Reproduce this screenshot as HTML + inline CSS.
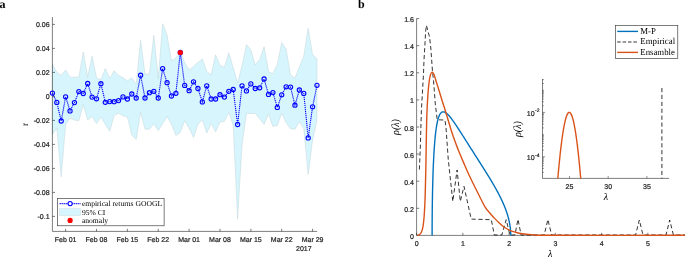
<!DOCTYPE html><html><head><meta charset="utf-8"><style>html,body{margin:0;padding:0;background:#fff;width:685px;height:257px;overflow:hidden}svg{display:block;will-change:transform;text-rendering:geometricPrecision}.s{font-family:"Liberation Sans",sans-serif;stroke:#262626;stroke-width:0.22px}.r{font-family:"Liberation Serif",serif}</style></head><body>
<svg width="685" height="257" viewBox="0 0 685 257">
<text x="-0.5" y="8.3" class="r" font-weight="bold" font-size="12" fill="#000">a</text>
<polygon points="52.4,64.2 56.81,72.3 61.22,75.4 65.63,70 70.04,77.2 74.45,77.2 78.86,77.2 83.27,52 87.68,77.2 92.09,56.1 96.5,77.9 100.91,79.7 105.32,68.5 109.73,78.5 114.14,70.7 118.55,75.5 122.96,77.5 127.37,80.8 131.78,77.9 136.19,84.3 140.6,40.3 145.01,74.1 149.42,74.1 153.83,35.3 158.24,78.5 162.65,23.7 167.06,35 171.47,61 175.88,58 180.29,52 184.7,62.5 189.11,70 193.52,66.3 197.93,62.5 202.34,58.9 206.75,71.5 211.16,74.8 215.57,54.8 219.98,65.4 224.39,67.3 228.8,52.7 233.21,67.8 237.62,83 242.03,66 246.44,44.6 250.85,50 255.26,64.8 259.67,59.8 264.08,46.6 268.49,71.6 272.9,73.8 277.31,64.4 281.72,42.4 286.13,49.2 290.54,75.2 294.95,78.1 299.36,67 303.77,56.2 308.18,28.2 312.59,54.7 317,58.6 317,120.1 312.59,140 308.18,174.4 303.77,128.7 299.36,121.7 294.95,129.2 290.54,128.8 286.13,122.8 281.72,113.1 277.31,125.5 272.9,126.5 268.49,113.9 264.08,124.4 259.67,118.8 255.26,113.5 250.85,113.5 246.44,113.2 242.03,145 237.62,219 233.21,125 228.8,112.6 224.39,121.3 219.98,122 215.57,131.9 211.16,123.5 206.75,133 202.34,119.5 197.93,124.4 193.52,137.5 189.11,128.2 184.7,120.7 180.29,132.5 175.88,135.4 171.47,124.4 167.06,116.4 162.65,123.6 158.24,130.7 153.83,123.8 149.42,129.2 145.01,129.2 140.6,112.3 136.19,139.4 131.78,135 127.37,117 122.96,115.7 118.55,113.2 114.14,115.5 109.73,131.3 105.32,124.4 100.91,117 96.5,123.5 92.09,116.4 87.68,120.1 83.27,104.7 78.86,120.7 74.45,120.1 70.04,118 65.63,124.4 61.22,176.8 56.81,128.2 52.4,134.4" fill="#d6f5fd" stroke="#c2d5d9" stroke-width="0.5" stroke-linejoin="miter"/>
<path d="M52.4 17V231.4H317.2" fill="none" stroke="#262626" stroke-width="0.6"/>
<text x="49.6" y="27.4" class="s" font-size="7" fill="#262626" text-anchor="end">0.06</text>
<text x="49.6" y="51.4" class="s" font-size="7" fill="#262626" text-anchor="end">0.04</text>
<text x="49.6" y="75.4" class="s" font-size="7" fill="#262626" text-anchor="end">0.02</text>
<text x="49.6" y="99.4" class="s" font-size="7" fill="#262626" text-anchor="end">0</text>
<text x="49.6" y="123.4" class="s" font-size="7" fill="#262626" text-anchor="end">-0.02</text>
<text x="49.6" y="147.4" class="s" font-size="7" fill="#262626" text-anchor="end">-0.04</text>
<text x="49.6" y="171.4" class="s" font-size="7" fill="#262626" text-anchor="end">-0.06</text>
<text x="49.6" y="195.4" class="s" font-size="7" fill="#262626" text-anchor="end">-0.08</text>
<text x="49.6" y="219.4" class="s" font-size="7" fill="#262626" text-anchor="end">-0.1</text>
<text x="65.63" y="241.7" class="s" font-size="7" fill="#262626" text-anchor="middle">Feb 01</text>
<text x="96.5" y="241.7" class="s" font-size="7" fill="#262626" text-anchor="middle">Feb 08</text>
<text x="127.37" y="241.7" class="s" font-size="7" fill="#262626" text-anchor="middle">Feb 15</text>
<text x="158.24" y="241.7" class="s" font-size="7" fill="#262626" text-anchor="middle">Feb 22</text>
<text x="189.11" y="241.7" class="s" font-size="7" fill="#262626" text-anchor="middle">Mar 01</text>
<text x="219.98" y="241.7" class="s" font-size="7" fill="#262626" text-anchor="middle">Mar 08</text>
<text x="250.85" y="241.7" class="s" font-size="7" fill="#262626" text-anchor="middle">Mar 15</text>
<text x="281.72" y="241.7" class="s" font-size="7" fill="#262626" text-anchor="middle">Mar 22</text>
<text x="312.59" y="241.7" class="s" font-size="7" fill="#262626" text-anchor="middle">Mar 29</text>
<path d="M52.4 24.4h2.6M52.4 48.4h2.6M52.4 72.4h2.6M52.4 96.4h2.6M52.4 120.4h2.6M52.4 144.4h2.6M52.4 168.4h2.6M52.4 192.4h2.6M52.4 216.4h2.6M65.63 231.4v-2.6M96.5 231.4v-2.6M127.37 231.4v-2.6M158.24 231.4v-2.6M189.11 231.4v-2.6M219.98 231.4v-2.6M250.85 231.4v-2.6M281.72 231.4v-2.6M312.59 231.4v-2.6" stroke="#262626" stroke-width="0.6" fill="none"/>
<text x="311.6" y="250.6" class="s" font-size="7" fill="#262626" text-anchor="end">2017</text>
<text transform="translate(28.3 124.3) rotate(-90)" class="r" font-size="9.5" fill="#000" text-anchor="middle">r</text>
<polyline points="52.4,93.1 56.81,102.4 61.22,121 65.63,96.8 70.04,110.9 74.45,102.6 78.86,91.6 83.27,93.5 87.68,83.5 92.09,97.1 96.5,98.8 100.91,83.7 105.32,102.3 109.73,101.6 114.14,101.7 118.55,100.6 122.96,96.9 127.37,99 131.78,94 136.19,98 140.6,75.2 145.01,98 149.42,92.7 153.83,91.3 158.24,98 162.65,68.6 167.06,82.7 171.47,96 175.88,93.3 180.29,52.5 184.7,85.4 189.11,90.7 193.52,81.8 197.93,88.5 202.34,101.9 206.75,85.8 211.16,99 215.57,99 219.98,94.7 224.39,97.1 228.8,91.3 233.21,89.5 237.62,124.5 242.03,85.8 246.44,90.9 250.85,83.9 255.26,88.5 259.67,87.8 264.08,79 268.49,94.4 272.9,92.6 277.31,107.4 281.72,94.8 286.13,86.8 290.54,87.1 294.95,105.2 299.36,90 303.77,93.4 308.18,137.9 312.59,106.8 317,85.3" fill="none" stroke="#0000ff" stroke-width="1.1" stroke-dasharray="1.2 0.8"/>
<circle cx="52.4" cy="93.1" r="2.1" fill="none" stroke="#0000ff" stroke-width="1.1"/>
<circle cx="56.81" cy="102.4" r="2.1" fill="none" stroke="#0000ff" stroke-width="1.1"/>
<circle cx="61.22" cy="121" r="2.1" fill="none" stroke="#0000ff" stroke-width="1.1"/>
<circle cx="65.63" cy="96.8" r="2.1" fill="none" stroke="#0000ff" stroke-width="1.1"/>
<circle cx="70.04" cy="110.9" r="2.1" fill="none" stroke="#0000ff" stroke-width="1.1"/>
<circle cx="74.45" cy="102.6" r="2.1" fill="none" stroke="#0000ff" stroke-width="1.1"/>
<circle cx="78.86" cy="91.6" r="2.1" fill="none" stroke="#0000ff" stroke-width="1.1"/>
<circle cx="83.27" cy="93.5" r="2.1" fill="none" stroke="#0000ff" stroke-width="1.1"/>
<circle cx="87.68" cy="83.5" r="2.1" fill="none" stroke="#0000ff" stroke-width="1.1"/>
<circle cx="92.09" cy="97.1" r="2.1" fill="none" stroke="#0000ff" stroke-width="1.1"/>
<circle cx="96.5" cy="98.8" r="2.1" fill="none" stroke="#0000ff" stroke-width="1.1"/>
<circle cx="100.91" cy="83.7" r="2.1" fill="none" stroke="#0000ff" stroke-width="1.1"/>
<circle cx="105.32" cy="102.3" r="2.1" fill="none" stroke="#0000ff" stroke-width="1.1"/>
<circle cx="109.73" cy="101.6" r="2.1" fill="none" stroke="#0000ff" stroke-width="1.1"/>
<circle cx="114.14" cy="101.7" r="2.1" fill="none" stroke="#0000ff" stroke-width="1.1"/>
<circle cx="118.55" cy="100.6" r="2.1" fill="none" stroke="#0000ff" stroke-width="1.1"/>
<circle cx="122.96" cy="96.9" r="2.1" fill="none" stroke="#0000ff" stroke-width="1.1"/>
<circle cx="127.37" cy="99" r="2.1" fill="none" stroke="#0000ff" stroke-width="1.1"/>
<circle cx="131.78" cy="94" r="2.1" fill="none" stroke="#0000ff" stroke-width="1.1"/>
<circle cx="136.19" cy="98" r="2.1" fill="none" stroke="#0000ff" stroke-width="1.1"/>
<circle cx="140.6" cy="75.2" r="2.1" fill="none" stroke="#0000ff" stroke-width="1.1"/>
<circle cx="145.01" cy="98" r="2.1" fill="none" stroke="#0000ff" stroke-width="1.1"/>
<circle cx="149.42" cy="92.7" r="2.1" fill="none" stroke="#0000ff" stroke-width="1.1"/>
<circle cx="153.83" cy="91.3" r="2.1" fill="none" stroke="#0000ff" stroke-width="1.1"/>
<circle cx="158.24" cy="98" r="2.1" fill="none" stroke="#0000ff" stroke-width="1.1"/>
<circle cx="162.65" cy="68.6" r="2.1" fill="none" stroke="#0000ff" stroke-width="1.1"/>
<circle cx="167.06" cy="82.7" r="2.1" fill="none" stroke="#0000ff" stroke-width="1.1"/>
<circle cx="171.47" cy="96" r="2.1" fill="none" stroke="#0000ff" stroke-width="1.1"/>
<circle cx="175.88" cy="93.3" r="2.1" fill="none" stroke="#0000ff" stroke-width="1.1"/>
<circle cx="180.29" cy="52.5" r="2.1" fill="none" stroke="#0000ff" stroke-width="1.1"/>
<circle cx="184.7" cy="85.4" r="2.1" fill="none" stroke="#0000ff" stroke-width="1.1"/>
<circle cx="189.11" cy="90.7" r="2.1" fill="none" stroke="#0000ff" stroke-width="1.1"/>
<circle cx="193.52" cy="81.8" r="2.1" fill="none" stroke="#0000ff" stroke-width="1.1"/>
<circle cx="197.93" cy="88.5" r="2.1" fill="none" stroke="#0000ff" stroke-width="1.1"/>
<circle cx="202.34" cy="101.9" r="2.1" fill="none" stroke="#0000ff" stroke-width="1.1"/>
<circle cx="206.75" cy="85.8" r="2.1" fill="none" stroke="#0000ff" stroke-width="1.1"/>
<circle cx="211.16" cy="99" r="2.1" fill="none" stroke="#0000ff" stroke-width="1.1"/>
<circle cx="215.57" cy="99" r="2.1" fill="none" stroke="#0000ff" stroke-width="1.1"/>
<circle cx="219.98" cy="94.7" r="2.1" fill="none" stroke="#0000ff" stroke-width="1.1"/>
<circle cx="224.39" cy="97.1" r="2.1" fill="none" stroke="#0000ff" stroke-width="1.1"/>
<circle cx="228.8" cy="91.3" r="2.1" fill="none" stroke="#0000ff" stroke-width="1.1"/>
<circle cx="233.21" cy="89.5" r="2.1" fill="none" stroke="#0000ff" stroke-width="1.1"/>
<circle cx="237.62" cy="124.5" r="2.1" fill="none" stroke="#0000ff" stroke-width="1.1"/>
<circle cx="242.03" cy="85.8" r="2.1" fill="none" stroke="#0000ff" stroke-width="1.1"/>
<circle cx="246.44" cy="90.9" r="2.1" fill="none" stroke="#0000ff" stroke-width="1.1"/>
<circle cx="250.85" cy="83.9" r="2.1" fill="none" stroke="#0000ff" stroke-width="1.1"/>
<circle cx="255.26" cy="88.5" r="2.1" fill="none" stroke="#0000ff" stroke-width="1.1"/>
<circle cx="259.67" cy="87.8" r="2.1" fill="none" stroke="#0000ff" stroke-width="1.1"/>
<circle cx="264.08" cy="79" r="2.1" fill="none" stroke="#0000ff" stroke-width="1.1"/>
<circle cx="268.49" cy="94.4" r="2.1" fill="none" stroke="#0000ff" stroke-width="1.1"/>
<circle cx="272.9" cy="92.6" r="2.1" fill="none" stroke="#0000ff" stroke-width="1.1"/>
<circle cx="277.31" cy="107.4" r="2.1" fill="none" stroke="#0000ff" stroke-width="1.1"/>
<circle cx="281.72" cy="94.8" r="2.1" fill="none" stroke="#0000ff" stroke-width="1.1"/>
<circle cx="286.13" cy="86.8" r="2.1" fill="none" stroke="#0000ff" stroke-width="1.1"/>
<circle cx="290.54" cy="87.1" r="2.1" fill="none" stroke="#0000ff" stroke-width="1.1"/>
<circle cx="294.95" cy="105.2" r="2.1" fill="none" stroke="#0000ff" stroke-width="1.1"/>
<circle cx="299.36" cy="90" r="2.1" fill="none" stroke="#0000ff" stroke-width="1.1"/>
<circle cx="303.77" cy="93.4" r="2.1" fill="none" stroke="#0000ff" stroke-width="1.1"/>
<circle cx="308.18" cy="137.9" r="2.1" fill="none" stroke="#0000ff" stroke-width="1.1"/>
<circle cx="312.59" cy="106.8" r="2.1" fill="none" stroke="#0000ff" stroke-width="1.1"/>
<circle cx="317" cy="85.3" r="2.1" fill="none" stroke="#0000ff" stroke-width="1.1"/>
<circle cx="180.3" cy="52.5" r="2.6" fill="#ff0000"/>
<rect x="57.5" y="198.3" width="106.6" height="27.5" fill="#fff" stroke="#262626" stroke-width="0.6"/>
<path d="M59.6 203.6H80.5" stroke="#0000ff" stroke-width="1.1" stroke-dasharray="1.2 0.8"/>
<circle cx="70.1" cy="203.6" r="2.1" fill="#fff" stroke="#0000ff" stroke-width="1.1"/>
<rect x="59.6" y="208.8" width="20.9" height="6.7" fill="#d6f5fd" stroke="#c2d5d9" stroke-width="0.4"/>
<circle cx="70.1" cy="220.4" r="2.6" fill="#ff0000"/>
<text x="81.9" y="206.1" class="r" font-size="7.6" fill="#000">empirical returns GOOGL</text>
<text x="81.9" y="214.8" class="r" font-size="7.6" fill="#000">95% CI</text>
<text x="81.9" y="222.7" class="r" font-size="7.6" fill="#000">anomaly</text>
<text x="358" y="8.2" class="r" font-weight="bold" font-size="12" fill="#000">b</text>
<path d="M416.6 18.4V235.4H685" fill="none" stroke="#262626" stroke-width="0.6"/>
<text x="413.9" y="238.9" class="s" font-size="7" fill="#262626" text-anchor="end">0</text>
<text x="413.9" y="211.8" class="s" font-size="7" fill="#262626" text-anchor="end">0.2</text>
<text x="413.9" y="184.7" class="s" font-size="7" fill="#262626" text-anchor="end">0.4</text>
<text x="413.9" y="157.6" class="s" font-size="7" fill="#262626" text-anchor="end">0.6</text>
<text x="413.9" y="130.5" class="s" font-size="7" fill="#262626" text-anchor="end">0.8</text>
<text x="413.9" y="103.4" class="s" font-size="7" fill="#262626" text-anchor="end">1</text>
<text x="413.9" y="76.3" class="s" font-size="7" fill="#262626" text-anchor="end">1.2</text>
<text x="413.9" y="49.2" class="s" font-size="7" fill="#262626" text-anchor="end">1.4</text>
<text x="413.9" y="22.1" class="s" font-size="7" fill="#262626" text-anchor="end">1.6</text>
<text x="416.6" y="246.0" class="s" font-size="7" fill="#262626" text-anchor="middle">0</text>
<text x="462.85" y="246.0" class="s" font-size="7" fill="#262626" text-anchor="middle">1</text>
<text x="509.1" y="246.0" class="s" font-size="7" fill="#262626" text-anchor="middle">2</text>
<text x="555.35" y="246.0" class="s" font-size="7" fill="#262626" text-anchor="middle">3</text>
<text x="601.6" y="246.0" class="s" font-size="7" fill="#262626" text-anchor="middle">4</text>
<text x="647.85" y="246.0" class="s" font-size="7" fill="#262626" text-anchor="middle">5</text>
<path d="M416.6 235.4h2.6M416.6 208.3h2.6M416.6 181.2h2.6M416.6 154.1h2.6M416.6 127h2.6M416.6 99.9h2.6M416.6 72.8h2.6M416.6 45.7h2.6M416.6 18.6h2.6M416.6 235.4v-2.6M462.85 235.4v-2.6M509.1 235.4v-2.6M555.35 235.4v-2.6M601.6 235.4v-2.6M647.85 235.4v-2.6" stroke="#262626" stroke-width="0.6" fill="none"/>
<text transform="translate(398.6 127.0) rotate(-90) scale(1 1.1)" class="r" font-style="italic" font-size="10" fill="#000" text-anchor="middle">ρ(λ)</text>
<text x="550.2" y="256.8" class="r" font-style="italic" font-size="10" fill="#000" text-anchor="middle">λ</text>
<path d="M419.4,169.5 L420.4,145 L420.8,130 L421.4,110 L422.3,95 L423.45,75 L424,60 L424.8,46.9 L425.6,31.7 L426.4,25.3 L429.6,37.2 L430.9,49.2 L432.5,71.7 L433.5,80 L435.3,104 L437.2,119.7 L445,120.1 L446.1,129.1 L446.6,136 L448.3,160 L452.8,201.4 L457.1,170 L460.3,201.4 L464,186.4 L471.2,219.1 L491.3,219.7 L494.3,235 L501.8,235 L506.2,219.7 L509.9,235 L514.9,235 L518,219.3 L521.1,235 L544.2,235 L547.9,219.5 L551.6,235 L635.6,235 L639.3,220 L643,235 L666,235 L669.7,220 L673.4,235 L685,235" fill="none" stroke="#000" stroke-width="0.8" stroke-dasharray="4.2 2.7"/>
<path d="M432.12,235.40 L432.12,230.62 L432.14,225.85 L432.16,221.10 L432.19,216.39 L432.24,211.71 L432.29,207.08 L432.35,202.51 L432.43,198.01 L432.51,193.58 L432.60,189.23 L432.70,184.98 L432.81,180.82 L432.93,176.77 L433.06,172.83 L433.20,169.00 L433.35,165.30 L433.51,161.71 L433.68,158.26 L433.85,154.93 L434.04,151.73 L434.24,148.67 L434.44,145.74 L434.65,142.95 L434.88,140.29 L435.11,137.76 L435.35,135.38 L435.60,133.12 L435.86,130.99 L436.12,129.00 L436.40,127.13 L436.68,125.39 L436.98,123.77 L437.28,122.26 L437.59,120.88 L437.91,119.61 L438.23,118.45 L438.57,117.39 L438.91,116.44 L439.26,115.59 L439.62,114.84 L439.99,114.18 L440.36,113.61 L440.75,113.13 L441.14,112.72 L441.53,112.40 L441.94,112.15 L442.35,111.98 L442.77,111.87 L443.19,111.83 L443.63,111.86 L444.07,111.94 L444.51,112.08 L444.97,112.28 L445.43,112.53 L445.89,112.82 L446.37,113.17 L446.85,113.55 L447.33,113.98 L447.82,114.45 L448.32,114.95 L448.82,115.49 L449.33,116.06 L449.84,116.67 L450.36,117.30 L450.88,117.96 L451.41,118.64 L451.95,119.35 L452.48,120.08 L453.03,120.84 L453.58,121.61 L454.13,122.40 L454.68,123.21 L455.24,124.03 L455.81,124.87 L456.38,125.72 L456.95,126.59 L457.53,127.47 L458.11,128.35 L458.69,129.25 L459.27,130.16 L459.86,131.07 L460.45,132.00 L461.05,132.92 L461.64,133.86 L462.24,134.80 L462.84,135.75 L463.45,136.70 L464.05,137.65 L464.66,138.61 L465.27,139.57 L465.88,140.53 L466.49,141.50 L467.11,142.47 L467.72,143.44 L468.33,144.40 L468.95,145.38 L469.57,146.35 L470.18,147.32 L470.80,148.29 L471.42,149.26 L472.04,150.23 L472.65,151.20 L473.27,152.16 L473.89,153.13 L474.50,154.10 L475.12,155.06 L475.73,156.02 L476.34,156.98 L476.96,157.94 L477.57,158.90 L478.17,159.85 L478.78,160.80 L479.39,161.75 L479.99,162.70 L480.59,163.65 L481.19,164.59 L481.79,165.53 L482.38,166.47 L482.97,167.40 L483.56,168.33 L484.15,169.26 L484.73,170.19 L485.31,171.11 L485.89,172.03 L486.46,172.95 L487.03,173.86 L487.59,174.78 L488.15,175.68 L488.71,176.59 L489.26,177.49 L489.81,178.39 L490.35,179.29 L490.89,180.19 L491.42,181.08 L491.95,181.97 L492.48,182.85 L492.99,183.74 L493.51,184.62 L494.02,185.50 L494.52,186.37 L495.01,187.24 L495.51,188.11 L495.99,188.98 L496.47,189.84 L496.94,190.71 L497.41,191.57 L497.87,192.42 L498.32,193.28 L498.77,194.13 L499.21,194.98 L499.64,195.83 L500.07,196.67 L500.49,197.51 L500.90,198.36 L501.30,199.19 L501.70,200.03 L502.09,200.86 L502.47,201.70 L502.85,202.53 L503.21,203.35 L503.57,204.18 L503.92,205.00 L504.27,205.83 L504.60,206.65 L504.93,207.47 L505.25,208.28 L505.56,209.10 L505.86,209.91 L506.15,210.73 L506.44,211.54 L506.71,212.35 L506.98,213.15 L507.24,213.96 L507.49,214.77 L507.73,215.57 L507.96,216.37 L508.18,217.17 L508.40,217.97 L508.60,218.77 L508.80,219.57 L508.98,220.37 L509.16,221.17 L509.33,221.96 L509.48,222.76 L509.63,223.55 L509.77,224.34 L509.90,225.14 L510.02,225.93 L510.13,226.72 L510.23,227.51 L510.33,228.30 L510.41,229.09 L510.48,229.88 L510.54,230.67 L510.60,231.46 L510.64,232.25 L510.68,233.04 L510.70,233.82 L510.71,234.61 L510.72,235.40" fill="none" stroke="#0072bd" stroke-width="1.4"/>
<path d="M417.30,235.30 C417.58,235.23 418.47,235.18 419.00,234.90 C419.53,234.62 420.00,234.32 420.50,233.60 C421.00,232.88 421.57,231.90 422.00,230.60 C422.43,229.30 422.77,227.90 423.10,225.80 C423.43,223.70 423.75,220.80 424.00,218.00 C424.25,215.20 424.42,212.33 424.60,209.00 C424.78,205.67 424.95,202.33 425.10,198.00 C425.25,193.67 425.37,188.50 425.50,183.00 C425.63,177.50 425.77,172.17 425.90,165.00 C426.03,157.83 426.17,147.50 426.30,140.00 C426.43,132.50 426.53,125.83 426.70,120.00 C426.87,114.17 427.05,109.83 427.30,105.00 C427.55,100.17 427.87,95.08 428.20,91.00 C428.53,86.92 428.92,83.23 429.30,80.50 C429.68,77.77 430.07,75.97 430.50,74.60 C430.93,73.23 431.42,72.50 431.90,72.30 C432.38,72.10 432.93,72.70 433.40,73.40 C433.87,74.10 434.30,75.37 434.70,76.50 C435.10,77.63 435.05,77.78 435.80,80.20 C436.55,82.62 438.07,87.32 439.20,91.00 C440.33,94.68 441.55,98.93 442.60,102.30 C443.65,105.67 443.85,105.87 445.50,111.20 C447.15,116.53 450.37,127.83 452.50,134.30 C454.63,140.77 456.32,144.97 458.30,150.00 C460.28,155.03 462.67,160.45 464.40,164.50 C466.13,168.55 467.27,171.17 468.70,174.30 C470.13,177.43 471.37,179.98 473.00,183.30 C474.63,186.62 476.50,190.28 478.50,194.20 C480.50,198.12 483.08,203.62 485.00,206.80 C486.92,209.98 488.50,211.48 490.00,213.30 C491.50,215.12 492.50,216.12 494.00,217.70 C495.50,219.28 497.38,221.28 499.00,222.80 C500.62,224.32 501.88,225.53 503.70,226.80 C505.52,228.07 507.85,229.47 509.90,230.40 C511.95,231.33 513.92,231.85 516.00,232.40 C518.08,232.95 519.27,233.28 522.40,233.70 C525.53,234.12 530.20,234.63 534.80,234.90 C539.40,235.17 524.97,235.23 550.00,235.30 C575.03,235.37 662.50,235.30 685.00,235.30" fill="none" stroke="#d95319" stroke-width="1.4"/>
<rect x="615.3" y="25.6" width="62.5" height="32.8" fill="#fff" stroke="#262626" stroke-width="0.6"/>
<path d="M617.2 31.4H638" stroke="#0072bd" stroke-width="1.4"/>
<path d="M617.2 42H638" stroke="#000" stroke-width="0.8" stroke-dasharray="3.5 1.9"/>
<path d="M617.2 52.4H638" stroke="#d95319" stroke-width="1.4"/>
<text x="640.3" y="34.1" class="r" font-size="9" fill="#000" textLength="15.6" lengthAdjust="spacingAndGlyphs">M-P</text>
<text x="640.3" y="44.3" class="r" font-size="9" fill="#000" textLength="34.8" lengthAdjust="spacingAndGlyphs">Empirical</text>
<text x="640.3" y="54.8" class="r" font-size="9" fill="#000" textLength="34.6" lengthAdjust="spacingAndGlyphs">Ensamble</text>
<rect x="542.5" y="79" width="126.6" height="99.4" fill="#fff"/>
<path d="M542.5 79V178.4H669.1" fill="none" stroke="#262626" stroke-width="0.6"/>
<text x="569.50" y="189" class="s" font-size="7" fill="#262626" text-anchor="middle">25</text>
<text x="608.20" y="189" class="s" font-size="7" fill="#262626" text-anchor="middle">30</text>
<text x="646.90" y="189" class="s" font-size="7" fill="#262626" text-anchor="middle">35</text>
<path d="M542.5 172.32h1.4M542.5 168.41h1.4M542.5 165.63h1.4M542.5 163.48h1.4M542.5 161.73h1.4M542.5 160.24h1.4M542.5 158.95h1.4M542.5 157.82h1.4M542.5 156.80h2.6M542.5 150.12h1.4M542.5 146.21h1.4M542.5 143.43h1.4M542.5 141.28h1.4M542.5 139.53h1.4M542.5 138.04h1.4M542.5 136.75h1.4M542.5 135.62h1.4M542.5 134.60h1.4M542.5 127.92h1.4M542.5 124.01h1.4M542.5 121.23h1.4M542.5 119.08h1.4M542.5 117.33h1.4M542.5 115.84h1.4M542.5 114.55h1.4M542.5 113.42h1.4M542.5 112.40h2.6M542.5 105.72h1.4M542.5 101.81h1.4M542.5 99.03h1.4M542.5 96.88h1.4M542.5 95.13h1.4M542.5 93.64h1.4M542.5 92.35h1.4M542.5 91.22h1.4M542.5 90.20h1.4M542.5 83.52h1.4M542.5 79.61h1.4M569.50 178.4v-2.4M608.20 178.4v-2.4M646.90 178.4v-2.4" stroke="#262626" stroke-width="0.5" fill="none"/>
<text x="534.6" y="116.00" class="s" font-size="7" fill="#262626" text-anchor="end">10</text>
<text x="535.1" y="112.20" class="s" font-size="5" fill="#262626">-2</text>
<text x="534.6" y="160.40" class="s" font-size="7" fill="#262626" text-anchor="end">10</text>
<text x="535.1" y="156.60" class="s" font-size="5" fill="#262626">-4</text>
<text transform="translate(521.2 129.1) rotate(-90) scale(1 1.1)" class="r" font-style="italic" font-size="10" fill="#000" text-anchor="middle">ρ(λ)</text>
<text x="605.9" y="199.8" class="r" font-style="italic" font-size="10" fill="#000" text-anchor="middle">λ</text>
<clipPath id="ic"><rect x="542.5" y="79" width="127" height="99.4"/></clipPath>
<path clip-path="url(#ic)" d="M555.57,206.99 L555.80,203.81 L556.03,200.68 L556.26,197.61 L556.50,194.60 L556.73,191.64 L556.96,188.73 L557.19,185.88 L557.43,183.08 L557.66,180.33 L557.89,177.64 L558.12,175.01 L558.35,172.42 L558.59,169.90 L558.82,167.42 L559.05,165.01 L559.28,162.64 L559.52,160.33 L559.75,158.08 L559.98,155.88 L560.21,153.73 L560.44,151.64 L560.68,149.60 L560.91,147.62 L561.14,145.69 L561.37,143.81 L561.61,141.99 L561.84,140.22 L562.07,138.51 L562.30,136.86 L562.53,135.25 L562.77,133.70 L563.00,132.21 L563.23,130.77 L563.46,129.38 L563.70,128.05 L563.93,126.77 L564.16,125.55 L564.39,124.38 L564.62,123.27 L564.86,122.21 L565.09,121.20 L565.32,120.25 L565.55,119.36 L565.78,118.51 L566.02,117.73 L566.25,116.99 L566.48,116.31 L566.71,115.69 L566.95,115.12 L567.18,114.60 L567.41,114.14 L567.64,113.73 L567.87,113.38 L568.11,113.08 L568.34,112.83 L568.57,112.64 L568.80,112.51 L569.04,112.43 L569.27,112.40 L569.50,112.43 L569.73,112.51 L569.96,112.64 L570.20,112.83 L570.43,113.08 L570.66,113.38 L570.89,113.73 L571.13,114.14 L571.36,114.60 L571.59,115.12 L571.82,115.69 L572.05,116.31 L572.29,116.99 L572.52,117.73 L572.75,118.51 L572.98,119.36 L573.22,120.25 L573.45,121.20 L573.68,122.21 L573.91,123.27 L574.14,124.38 L574.38,125.55 L574.61,126.77 L574.84,128.05 L575.07,129.38 L575.30,130.77 L575.54,132.21 L575.77,133.70 L576.00,135.25 L576.23,136.86 L576.47,138.51 L576.70,140.22 L576.93,141.99 L577.16,143.81 L577.39,145.69 L577.63,147.62 L577.86,149.60 L578.09,151.64 L578.32,153.73 L578.56,155.88 L578.79,158.08 L579.02,160.33 L579.25,162.64 L579.48,165.01 L579.72,167.42 L579.95,169.90 L580.18,172.42 L580.41,175.01 L580.65,177.64 L580.88,180.33 L581.11,183.08 L581.34,185.88 L581.57,188.73 L581.81,191.64 L582.04,194.60 L582.27,197.61 L582.50,200.68 L582.74,203.81 L582.97,206.99 L583.20,210.22 L583.43,213.51" fill="none" stroke="#d95319" stroke-width="1.4"/>
<path d="M661.9 88V178.4" stroke="#000" stroke-width="0.8" stroke-dasharray="4.2 2.7" fill="none"/>
</svg></body></html>
